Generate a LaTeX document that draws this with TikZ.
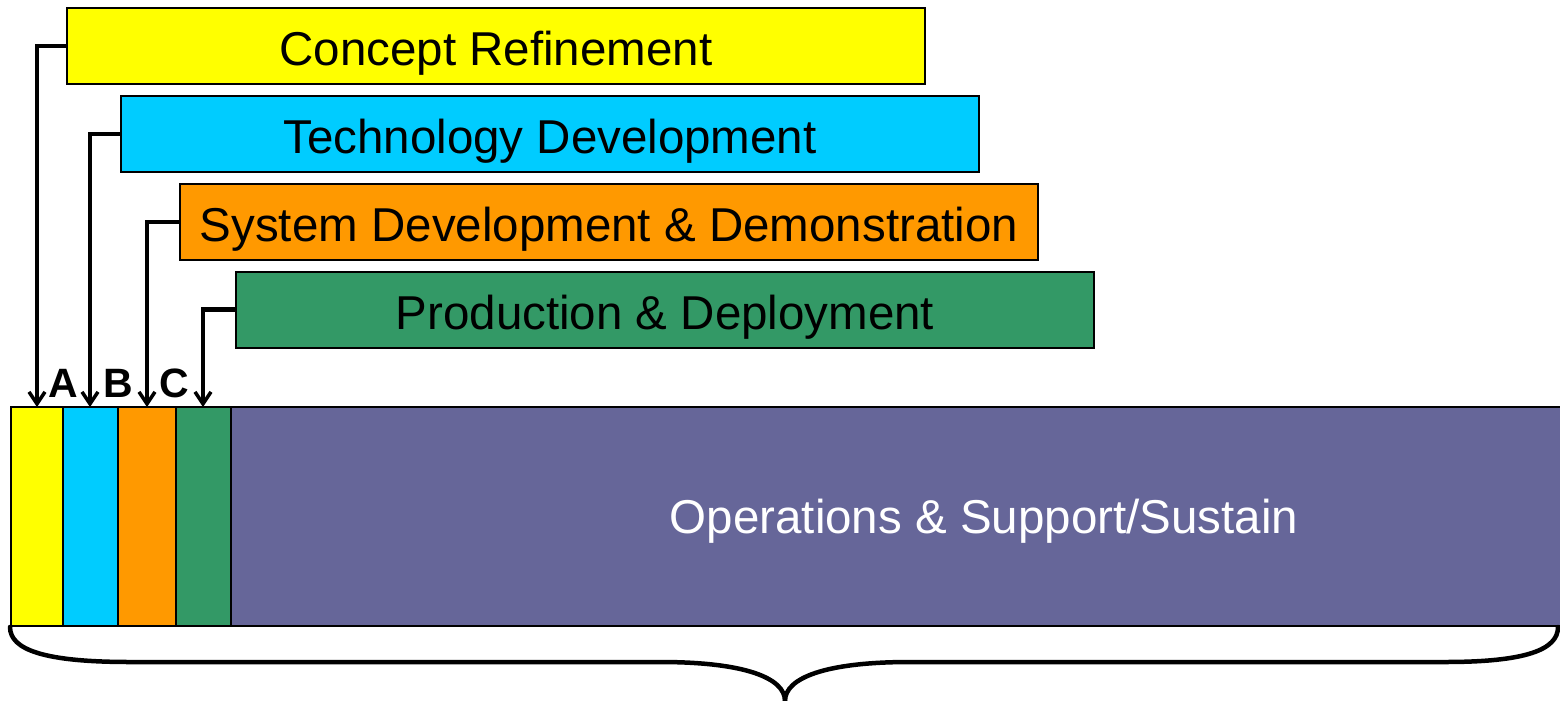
\documentclass[tikz,border=0pt]{standalone}
\usepackage{fontspec}
\setmainfont{Liberation Sans}
\usetikzlibrary{arrows.meta}
\definecolor{cYel}{HTML}{FFFF00}
\definecolor{cCya}{HTML}{00CCFF}
\definecolor{cOra}{HTML}{FF9900}
\definecolor{cGre}{HTML}{339966}
\definecolor{cPur}{HTML}{666699}
\tikzset{
  phase/.style={draw=black, line width=2pt, minimum width=858pt, minimum height=76pt, inner sep=0pt, text height=39pt, text depth=0pt, font=\fontsize{47.5}{57}\selectfont, anchor=north west},
  seg/.style={draw=black, line width=2pt},
  conn/.style={line width=4.5pt, -{Straight Barb[length=12pt,width=16pt,line width=3.5pt]}, line join=miter},
  mslabel/.style={font=\fontsize{41}{48}\selectfont\bfseries, anchor=base, inner sep=0pt},
}
\begin{document}
\begin{tikzpicture}[x=1pt,y=-1pt]
\useasboundingbox (0,0) rectangle (1560,701);
% phase boxes
\node[phase, fill=cYel] (cr) at (66,7) {Concept Refinement};
\node[phase, fill=cCya] (td) at (120,95) {Technology Development};
\node[phase, fill=cOra] (sd) at (179,183) {System Development \& Demonstration};
\node[phase, fill=cGre] (pd) at (235,270.5) {Production \& Deployment};
% bottom bar
\fill[cPur] (231,407) rectangle (1562,626);
\draw[line width=2pt] (1562,407) -- (231,407) -- (231,626) -- (1562,626);
\draw[seg, fill=cYel] (11,407) rectangle (63,626);
\draw[seg, fill=cCya] (63,407) rectangle (118,626);
\draw[seg, fill=cOra] (118,407) rectangle (176,626);
\draw[seg, fill=cGre] (176,407) rectangle (231,626);
\node[text=white, font=\fontsize{47.5}{57}\selectfont, anchor=base, inner sep=0pt] (ops) at (984,533) {Operations \& Support/Sustain};
% connector targets
\coordinate (t1) at (37,407);
\coordinate (t2) at (90,407);
\coordinate (t3) at (147,407);
\coordinate (t4) at (203,407);
\draw[conn] (cr.west) -| (t1);
\draw[conn] (td.west) -| (t2);
\draw[conn] (sd.west) -| (t3);
\draw[conn] (pd.west) -| (t4);
% milestone labels
\node[mslabel] (mA) at (63,397) {A};
\node[mslabel] (mB) at (118,397) {B};
\node[mslabel] (mC) at (174,397) {C};
% brace
\draw[line width=4.5pt, line cap=round] (10,627) .. controls (10,650) and (45,662) .. (130,662)
  -- (660,662) .. controls (745,662) and (785,678) .. (785,701);
\draw[line width=4.5pt, line cap=round] (785,701) .. controls (785,678) and (825,662) .. (910,662)
  -- (1445,662) .. controls (1525,662) and (1558,650) .. (1558,627);
\end{tikzpicture}
\end{document}
